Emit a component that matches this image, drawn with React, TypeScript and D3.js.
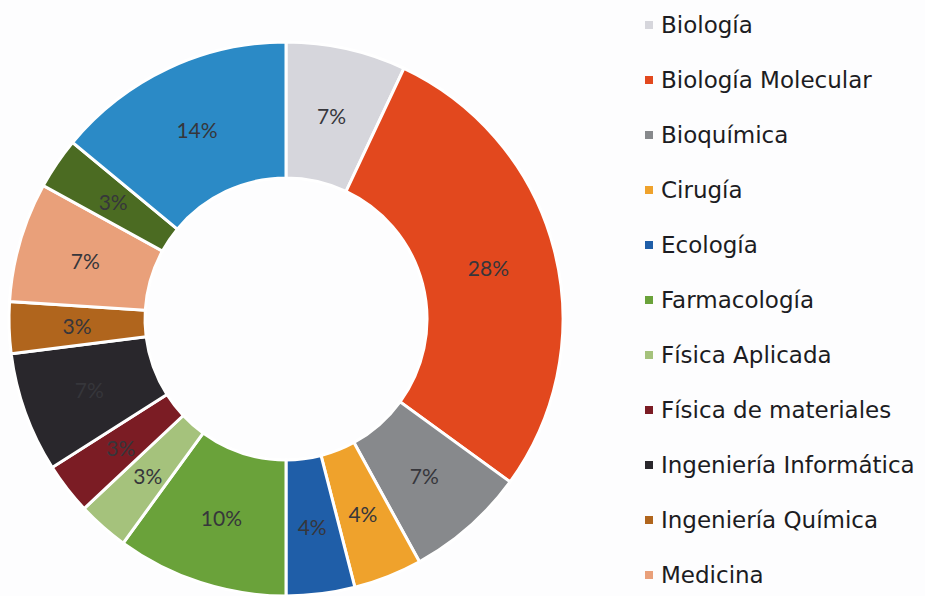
import React, { useEffect, useRef } from 'react';
import * as d3 from 'd3';

// áreas (en orden de la leyenda / sentido horario desde las 12)
const categories = [
  'Biología',
  'Biología Molecular',
  'Bioquímica',
  'Cirugía',
  'Ecología',
  'Farmacología',
  'Física Aplicada',
  'Física de materiales',
  'Ingeniería Informática',
  'Ingeniería Química',
  'Medicina',
  'Química',
  'Veterinaria',
];

const shares = [7, 28, 7, 4, 4, 10, 3, 3, 7, 3, 7, 3, 14];

const palette = [
  '#d6d6dc',
  '#e2481e',
  '#87898c',
  '#efa22c',
  '#1f5ea8',
  '#6aa23a',
  '#a5c27c',
  '#7b1c24',
  '#29272c',
  '#b0651d',
  '#e9a07a',
  '#4b6b22',
  '#2b8ac6',
];

const App = () => {
  const svgRef = useRef<SVGSVGElement>(null);

  useEffect(() => {
    const width = 925;
    const height = 596;
    const cx = 286;
    const cy = 319;
    const outer = 277;
    const inner = 141;

    const svg = d3.select(svgRef.current)
      .attr('width', width)
      .attr('height', height);

    svg.selectAll('*').remove();

    svg.append('rect')
      .attr('width', width)
      .attr('height', height)
      .attr('fill', '#fdfdfe');

    const rows = categories.map((name, i) => ({ name, value: shares[i], color: palette[i] }));

    const pie = d3.pie<any>()
      .sort(null)
      .value(d => d.value);

    const arc = d3.arc<any>()
      .innerRadius(inner)
      .outerRadius(outer);

    const g = svg.append('g').attr('transform', `translate(${cx},${cy})`);
    const arcs = pie(rows);

    g.selectAll('path')
      .data(arcs)
      .enter()
      .append('path')
      .attr('d', arc)
      .attr('fill', d => d.data.color)
      .attr('stroke', '#ffffff')
      .attr('stroke-width', 3)
      .attr('stroke-linejoin', 'miter');

    g.selectAll('text.lbl')
      .data(arcs)
      .enter()
      .append('text')
      .attr('class', 'lbl')
      .attr('x', d => arc.centroid(d)[0])
      .attr('y', d => arc.centroid(d)[1])
      .attr('text-anchor', 'middle')
      .attr('dominant-baseline', 'central')
      .style('font-family', 'Lato, "Open Sans", sans-serif')
      .style('font-size', '21px')
      .style('fill', '#36363b')
      .text(d => `${d.data.value}%`);

    // leyenda: solo caben las entradas que entran en la altura (como en el original)
    const legendY = d3.scaleLinear().domain([0, 1]).range([25, 80]);
    const visible = rows.filter((d, i) => legendY(i) + 12 < height);
    const legend = svg.append('g');
    const items = legend.selectAll('g')
      .data(visible)
      .enter()
      .append('g')
      .attr('transform', (d, i) => `translate(645,${legendY(i)})`);

    items.append('rect')
      .attr('x', 0)
      .attr('y', -4)
      .attr('width', 8)
      .attr('height', 8)
      .attr('fill', d => d.color);

    items.append('text')
      .attr('x', 16)
      .attr('y', 0)
      .attr('dy', '0.36em')
      .style('font-family', '"DejaVu Sans", Verdana, sans-serif')
      .style('font-size', '23px')
      .style('fill', '#1c1c22')
      .text(d => d.name);
  }, []);

  return (
    <div style={{ position: 'absolute', left: 0, top: 0 }}>
      <svg ref={svgRef} style={{ display: 'block' }}></svg>
    </div>
  );
};

export default App;
